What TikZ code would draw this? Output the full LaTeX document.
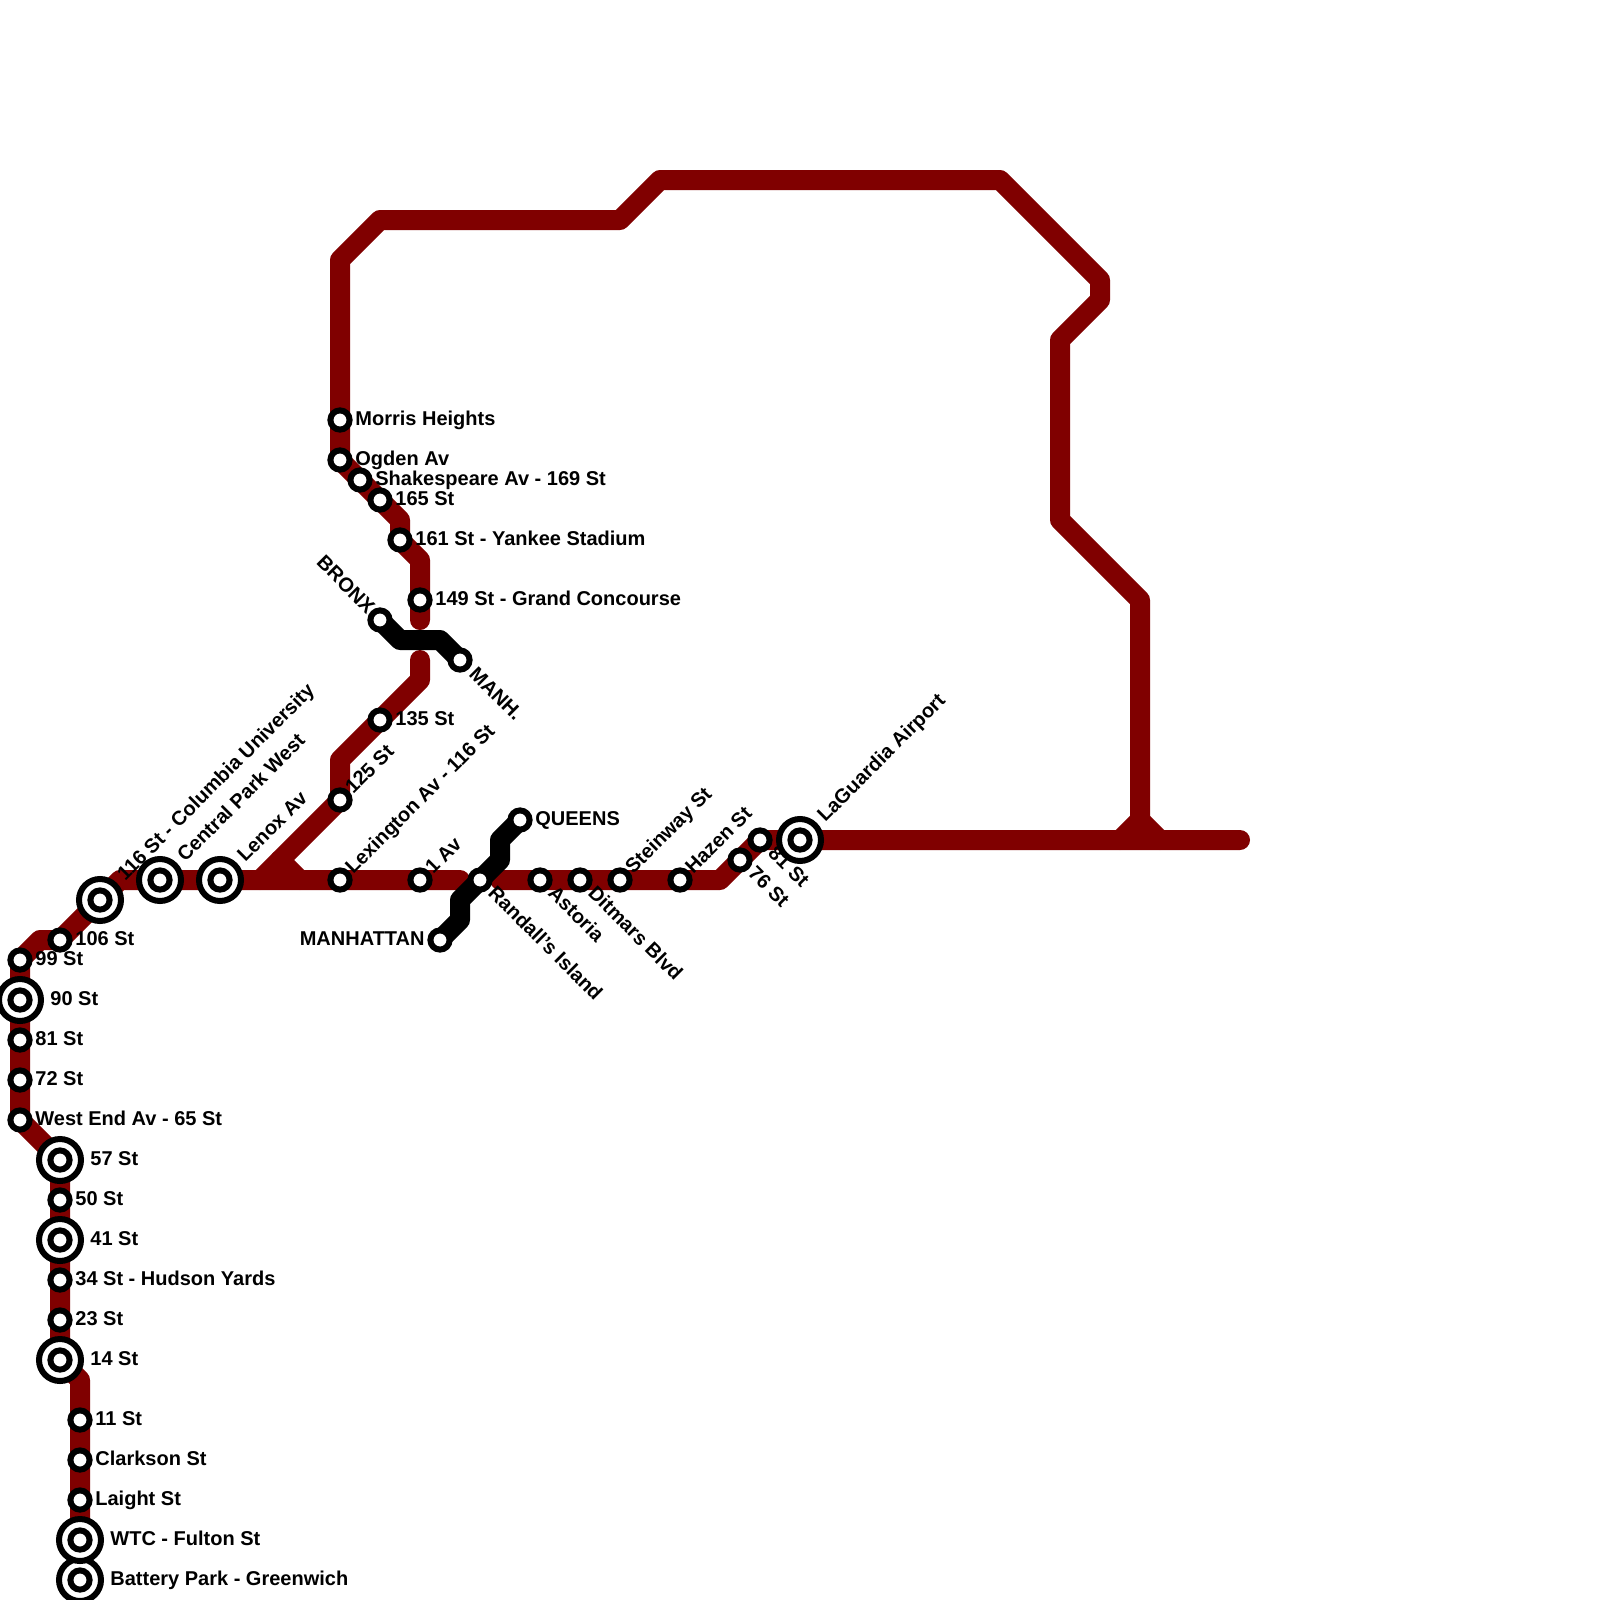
\documentclass[tikz,border=0pt]{standalone}
\usepackage{fontspec}
\setmainfont{Liberation Sans}
\usetikzlibrary{backgrounds}
\definecolor{linered}{HTML}{800000}
\tikzset{
	line/.style={
		line width=10pt,
		line cap=round,
		line join=round,
		linered,
	},
	stop/.style={
		draw,
		circle,
		fill=white,
		line width=3pt,
		inner sep=0pt,
		minimum size=9.6pt,
	},
	hub/.style={
		stop,
		minimum size=21pt,
	},
	txt/.style={
		font=\bfseries\fontsize{10}{12}\selectfont,
		inner sep=0pt,
		text height=7.2pt,
		text depth=0pt,
		anchor=west,
	},
	up/.style={txt,rotate=45},
	down/.style={txt,rotate=-45},
}
\begin{document}
\begin{tikzpicture}[x=0.5pt,y=-0.5pt]
	\useasboundingbox (0,0) rectangle (1600,1600);

	\node[hub]  (batteryhub) at (80,1580) {};
	\node[stop] (battery) at (80,1580) {};
	\node[hub]  (wtchub) at (80,1540) {};
	\node[stop] (wtc) at (80,1540) {};
	\node[stop] (laight) at (80,1500) {};
	\node[stop] (clarkson) at (80,1460) {};
	\node[stop] (eleven) at (80,1420) {};
	\node[hub]  (fourteenhub) at (60,1360) {};
	\node[stop] (fourteen) at (60,1360) {};
	\node[stop] (twentythree) at (60,1320) {};
	\node[stop] (hudson) at (60,1280) {};
	\node[hub]  (fortyonehub) at (60,1240) {};
	\node[stop] (fortyone) at (60,1240) {};
	\node[stop] (fifty) at (60,1200) {};
	\node[hub]  (fiftysevenhub) at (60,1160) {};
	\node[stop] (fiftyseven) at (60,1160) {};
	\node[stop] (westend) at (20,1120) {};
	\node[stop] (seventytwo) at (20,1080) {};
	\node[stop] (eightyone) at (20,1040) {};
	\node[hub]  (ninetyhub) at (20,1000) {};
	\node[stop] (ninety) at (20,1000) {};
	\node[stop] (ninetynine) at (20,960) {};
	\node[stop] (onesix) at (60,940) {};
	\node[hub]  (columbiahub) at (100,900) {};
	\node[stop] (columbia) at (100,900) {};
	\node[hub]  (centralhub) at (160,880) {};
	\node[stop] (central) at (160,880) {};
	\node[hub]  (lenoxhub) at (220,880) {};
	\node[stop] (lenox) at (220,880) {};
	\node[stop] (lexington) at (340,880) {};
	\node[stop] (firstav) at (420,880) {};
	\node[stop] (randalls) at (480,880) {};
	\node[stop] (astoria) at (540,880) {};
	\node[stop] (ditmars) at (580,880) {};
	\node[stop] (steinway) at (620,880) {};
	\node[stop] (hazen) at (680,880) {};
	\node[stop] (seventysix) at (740,860) {};
	\node[stop] (eightyoneq) at (760,840) {};
	\node[hub]  (laguardiahub) at (800,840) {};
	\node[stop] (laguardia) at (800,840) {};
	\node[stop] (onetwofive) at (340,800) {};
	\node[stop] (onethreefive) at (380,720) {};
	\node[stop] (grand) at (420,600) {};
	\node[stop] (yankee) at (400,540) {};
	\node[stop] (onesixfive) at (380,500) {};
	\node[stop] (shakespeare) at (360,480) {};
	\node[stop] (ogden) at (340,460) {};
	\node[stop] (morris) at (340,420) {};
	\node[stop] (bronx) at (380,620) {};
	\node[stop] (manh) at (460,660) {};
	\node[stop] (queens) at (520,820) {};
	\node[stop] (manhattan) at (440,940) {};

	\node[txt]  (batterytxt) at (110,1578) {Battery Park - Greenwich};
	\node[txt]  (wtctxt) at (110,1538) {WTC - Fulton St};
	\node[txt]  (laighttxt) at (95,1498) {Laight St};
	\node[txt]  (clarksontxt) at (95,1458) {Clarkson St};
	\node[txt]  (eleventxt) at (95,1418) {11 St};
	\node[txt]  (fourteentxt) at (90,1358) {14 St};
	\node[txt]  (twentythreetxt) at (75,1318) {23 St};
	\node[txt]  (hudsontxt) at (75,1278) {34 St - Hudson Yards};
	\node[txt]  (fortyonetxt) at (90,1238) {41 St};
	\node[txt]  (fiftytxt) at (75,1198) {50 St};
	\node[txt]  (fiftyseventxt) at (90,1158) {57 St};
	\node[txt]  (westendtxt) at (35,1118) {West End Av - 65 St};
	\node[txt]  (seventytwotxt) at (35,1078) {72 St};
	\node[txt]  (eightyonetxt) at (35,1038) {81 St};
	\node[txt]  (ninetytxt) at (50,998) {90 St};
	\node[txt]  (ninetyninetxt) at (35,958) {99 St};
	\node[txt]  (onesixtxt) at (75,938) {106 St};
	\node[up]   (columbiatxt) at (120,877) {116 St - Columbia University};
	\node[up]   (centraltxt) at (180,858) {Central Park West};
	\node[up]   (lenoxtxt) at (240,858) {Lenox Av};
	\node[up]   (lexingtontxt) at (348,870) {Lexington Av - 116 St};
	\node[up]   (firstavtxt) at (428,870) {1 Av};
	\node[down] (randallstxt) at (492,889) {Randall’s Island};
	\node[down] (astoriatxt) at (552,889) {Astoria};
	\node[down] (ditmarstxt) at (592,889) {Ditmars Blvd};
	\node[up]   (steinwaytxt) at (628,870) {Steinway St};
	\node[up]   (hazentxt) at (688,870) {Hazen St};
	\node[down] (seventysixtxt) at (752,869) {76 St};
	\node[down] (eightyoneqtxt) at (772,849) {81 St};
	\node[up]   (laguardiatxt) at (820,818) {LaGuardia Airport};
	\node[up]   (onetwofivetxt) at (348,790) {125 St};
	\node[txt]  (onethreefivetxt) at (395,718) {135 St};
	\node[txt]  (grandtxt) at (435,598) {149 St - Grand Concourse};
	\node[txt]  (yankeetxt) at (415,538) {161 St - Yankee Stadium};
	\node[txt]  (onesixfivetxt) at (395,498) {165 St};
	\node[txt]  (shakespearetxt) at (375,478) {Shakespeare Av - 169 St};
	\node[txt]  (ogdentxt) at (355,458) {Ogden Av};
	\node[txt]  (morristxt) at (355,418) {Morris Heights};
	\node[down,anchor=east] (bronxtxt) at (372,610) {BRONX};
	\node[down] (manhtxt) at (473,670) {MANH.};
	\node[txt]  (queenstxt) at (535,818) {QUEENS};
	\node[txt,anchor=east] (manhattantxt) at (425,938) {MANHATTAN};

	\coordinate (southbend) at (80,1380);
	\coordinate (westbend) at (40,940);
	\coordinate (eastcurve) at (120,880);
	\coordinate (fork) at (260,880);
	\coordinate (forkstub) at (300,880);
	\coordinate (forktop) at (280,860);
	\coordinate (westgap) at (460,880);
	\coordinate (eastgap) at (500,880);
	\coordinate (hazenbend) at (720,880);
	\coordinate (lineend) at (1240,840);
	\coordinate (junction) at (1140,820);
	\coordinate (junctionw) at (1120,840);
	\coordinate (junctione) at (1160,840);
	\coordinate (harlemup) at (340,760);
	\coordinate (harlemtop) at (420,680);
	\coordinate (harlemgap) at (420,660);
	\coordinate (bronxgap) at (420,620);
	\coordinate (bronxbend) at (420,560);
	\coordinate (yankeebend) at (400,520);
	\coordinate (loopa) at (340,260);
	\coordinate (loopb) at (380,220);
	\coordinate (loopc) at (620,220);
	\coordinate (loopd) at (660,180);
	\coordinate (loope) at (1000,180);
	\coordinate (loopf) at (1100,280);
	\coordinate (loopg) at (1100,300);
	\coordinate (looph) at (1060,340);
	\coordinate (loopi) at (1060,520);
	\coordinate (loopj) at (1140,600);
	\coordinate (bronxa) at (400,640);
	\coordinate (bronxb) at (440,640);
	\coordinate (queensa) at (460,920);
	\coordinate (queensb) at (460,900);
	\coordinate (queensc) at (500,860);
	\coordinate (queensd) at (500,840);

	\begin{scope}[on background layer]
		\draw[line] (battery.center) -- (southbend) -- (fourteen.center) -- (fiftyseven.center) -- (westend.center) -- (ninetynine.center) -- (westbend) -- (onesix.center) -- (eastcurve) -- (westgap);
		\draw[line] (eastgap) -- (hazenbend) -- (eightyoneq.center) -- (lineend);
		\draw[line] (fork) -- (onetwofive.center) -- (harlemup) -- (harlemtop) -- (harlemgap);
		\draw[line] (forktop) -- (forkstub);
		\draw[line] (bronxgap) -- (bronxbend) -- (yankee.center) -- (yankeebend) -- (onesixfive.center) -- (ogden.center) -- (loopa) -- (loopb) -- (loopc) -- (loopd) -- (loope) -- (loopf) -- (loopg) -- (looph) -- (loopi) -- (loopj) -- (junction);
		\draw[line] (junctionw) -- (junction) -- (junctione);
		\draw[line,black] (bronx.center) -- (bronxa) -- (bronxb) -- (manh.center);
		\draw[line,black] (manhattan.center) -- (queensa) -- (queensb) -- (queensc) -- (queensd) -- (queens.center);
	\end{scope}
\end{tikzpicture}
\end{document}
